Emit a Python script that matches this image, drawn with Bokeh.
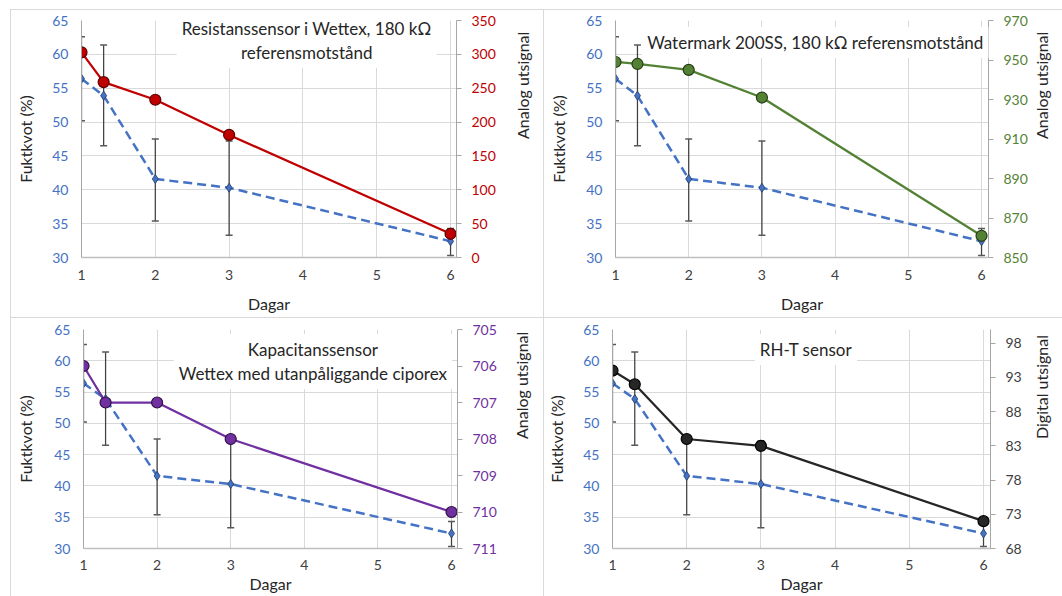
import math
from bokeh.plotting import figure
from bokeh.models import Range1d, LinearAxis, FixedTicker, Label, Title
from bokeh.layouts import column, row
from bokeh.embed import file_html
from bokeh.resources import INLINE

# ---------------- data ----------------
days = [1, 1.3, 2, 3, 6]
fuktkvot = [56.4, 53.9, 41.6, 40.3, 32.4]
fukt_hi = [62.6, 61.4, 47.5, 47.2, 34.3]
fukt_lo = [50.2, 46.5, 35.4, 33.3, 30.3]

resistans = [303, 259, 233, 181, 35]
watermark = [949, 948, 945, 931, 861]
kapacitans = [706, 707, 707, 708, 710]
rht = [94, 92, 84, 83, 72]

x_ticks = [1, 2, 3, 4, 5, 6]
left_ticks = [30, 35, 40, 45, 50, 55, 60, 65]
resist_ticks = [0, 50, 100, 150, 200, 250, 300, 350]
water_ticks = [850, 870, 890, 910, 930, 950, 970]
kap_ticks = [705, 706, 707, 708, 709, 710, 711]
rht_ticks = [68, 73, 78, 83, 88, 93, 98]

titles = ["Resistanssensor i Wettex, 180 kΩ\nreferensmotstånd",
          "Watermark  200SS, 180 kΩ referensmotstånd",
          "Kapacitanssensor\nWettex med utanpåliggande ciporex",
          "RH-T sensor"]
x_title = "Dagar"
y_title = "Fuktkvot (%)"
right_titles = ["Analog utsignal", "Analog utsignal", "Analog utsignal", "Digital utsignal"]

FONT = "Lato"
BLUE = "#4472C4"
GRID = "#D9D9D9"
AXIS = "#A6A6A6"
TXT = "#262626"


def spacer_label(axis, extra):
    # invisible, blank axis label that only widens the axis panel
    if extra > 0:
        axis.axis_label = " "
        axis.axis_label_text_font_size = "1px"
        axis.axis_label_text_alpha = 0
        axis.axis_label_standoff = extra - 1
    else:
        axis.axis_label_standoff = 0


def panel(geo, r_start, r_end, r_ticks, r_color, r_label_color, series, m_fill, m_line,
          title, title_pos, r_title, r_std, l_title_y, l_std, l_extra, x_title_x, x_std,
          x_title_std, x_extra):
    fx, fy, w, h, fl, fr, ft, fb, x6 = geo
    unit = (x6 - fl) / 5.0
    xend = 1 + (fr - fl) / unit
    p = figure(width=w, height=h, output_backend="svg", toolbar_location=None,
               x_range=Range1d(1, xend), y_range=Range1d(30, 65),
               min_border_left=fl - fx, min_border_right=fx + w - fr,
               min_border_top=ft - fy, min_border_bottom=fy + h - fb,
               background_fill_color="white", border_fill_color="white")
    p.outline_line_color = None
    p.styles = {"border-top": "1px solid #D9D9D9", "border-left": "1px solid #D9D9D9",
                "box-sizing": "border-box"}

    def dx(px):
        return 1 + (px - fl) / unit

    def dy(py):
        return 30 + (fb - py) / (fb - ft) * 35.0

    p.extra_y_ranges = {"r": Range1d(r_start, r_end)}

    xa = p.xaxis[0]
    xa.ticker = FixedTicker(ticks=x_ticks)
    xa.major_tick_out = 0
    xa.major_tick_in = 0
    xa.major_tick_line_color = None
    xa.minor_tick_line_color = None
    xa.axis_line_color = "#BFBFBF"
    xa.axis_line_width = 1.5
    xa.major_label_text_font = FONT
    xa.major_label_text_font_size = "14px"
    xa.major_label_text_color = "#404040"
    xa.major_label_standoff = x_std
    spacer_label(xa, x_extra)

    ya = p.yaxis[0]
    ya.ticker = FixedTicker(ticks=left_ticks)
    ya.major_tick_out = 0
    ya.major_tick_in = 0
    ya.major_tick_line_color = None
    ya.minor_tick_line_color = None
    ya.axis_line_color = AXIS
    ya.major_label_text_font = FONT
    ya.major_label_text_font_size = "14px"
    ya.major_label_text_color = BLUE
    ya.major_label_standoff = 13
    spacer_label(ya, l_extra)

    ra = LinearAxis(y_range_name="r", ticker=FixedTicker(ticks=r_ticks))
    ra.axis_line_color = AXIS
    ra.major_tick_line_color = AXIS
    ra.major_tick_out = 5
    ra.major_tick_in = 0
    ra.minor_tick_line_color = None
    ra.major_label_text_font = FONT
    ra.major_label_text_font_size = "14px"
    ra.major_label_text_color = r_label_color
    ra.major_label_standoff = 10
    ra.axis_label = r_title
    ra.axis_label_text_font = FONT
    ra.axis_label_text_font_size = "16px"
    ra.axis_label_text_font_style = "normal"
    ra.axis_label_text_color = TXT
    ra.axis_label_standoff = r_std
    if "axis_label_orientation" in LinearAxis.properties():
        ra.axis_label_orientation = math.pi / 2
    p.add_layout(ra, "right")

    p.xgrid.ticker = FixedTicker(ticks=x_ticks)
    p.xgrid.grid_line_color = GRID
    p.ygrid.ticker = FixedTicker(ticks=left_ticks)
    p.ygrid.grid_line_color = GRID

    # error bars
    p.segment(x0=days, y0=fukt_lo, x1=days, y1=fukt_hi, line_color="#404040", line_width=1.25)
    p.scatter(x=days, y=fukt_hi, marker="dash", size=7, line_color="#595959", line_width=1.5)
    p.scatter(x=days, y=fukt_lo, marker="dash", size=7, line_color="#595959", line_width=1.5)

    # blue dashed series
    p.line(days, fuktkvot, line_color=BLUE, line_width=2.5, line_dash="9 5")
    p.scatter(days, fuktkvot, marker="diamond", size=9, fill_color=BLUE, line_color="#1F3864",
              line_width=0.8)

    # sensor series on right axis
    p.line(days, series, line_color=r_color, line_width=2.25, y_range_name="r")
    p.scatter(days, series, marker="circle", size=11, fill_color=m_fill, line_color=m_line,
              line_width=1.2, y_range_name="r")

    # chart title with white box
    tx, ty = title_pos
    p.add_layout(Label(x=dx(tx), y=dy(ty), text=title, text_font=FONT, text_font_size="17px",
                       text_color=TXT, text_align="center", text_baseline="middle",
                       text_line_height=1.15, background_fill_color="white", padding=5))

    # left / bottom axis titles as side titles
    fcy = (ft + fb) / 2.0
    p.add_layout(Title(text=y_title, align="center", offset=fcy - l_title_y, standoff=l_std,
                       text_font=FONT, text_font_size="16px", text_font_style="normal",
                       text_color=TXT), "left")
    fcx = (fl + fr) / 2.0
    p.add_layout(Title(text=x_title, align="center", offset=x_title_x - fcx, standoff=x_title_std,
                       text_font=FONT, text_font_size="16px", text_font_style="normal",
                       text_color=TXT), "below")
    return p


# geometry in page pixels: fig x, fig y, width, height, frame l, r, t, b, x of day 6
p1 = panel((10, 9, 533, 308, 79, 457, 19, 256, 451), 0, 350, resist_ticks, "#C00000", "#C00000",
           resistans, "#C00000", "#5C0000", titles[0], (306, 39), right_titles[0], 24,
           157, 4, 10, 282, 12, 7, 3)
p2 = panel((543, 9, 519, 308, 613, 988, 19, 257, 981), 850, 970, water_ticks, "#548235",
           "#548235", watermark, "#548235", "#263D17", titles[1], (816, 41), right_titles[1],
           11, 157, 4, 11, 814, 12, 6, 3)
p3 = panel((10, 317, 533, 279, 81, 456, 328, 548, 450), 711, 705, kap_ticks, "#7030A0",
           "#7030A0", kapacitans, "#7030A0", "#2E1045", titles[2], (311, 360), right_titles[2],
           22, 457, 4, 12, 282, 11, -1, 0)
p4 = panel((543, 317, 519, 279, 610, 989, 327, 547, 982), 68, 100, rht_ticks, "#262626",
           "#404040", rht, "#262626", "#000000", titles[3], (804, 347), right_titles[3],
           17, 456, 0, 12, 809, 11, -1, 0)

layout = column(row(p1, p2), row(p3, p4))
layout.margin = (9, 0, 0, 10)
open("out.html", "w").write(file_html(layout, INLINE))
